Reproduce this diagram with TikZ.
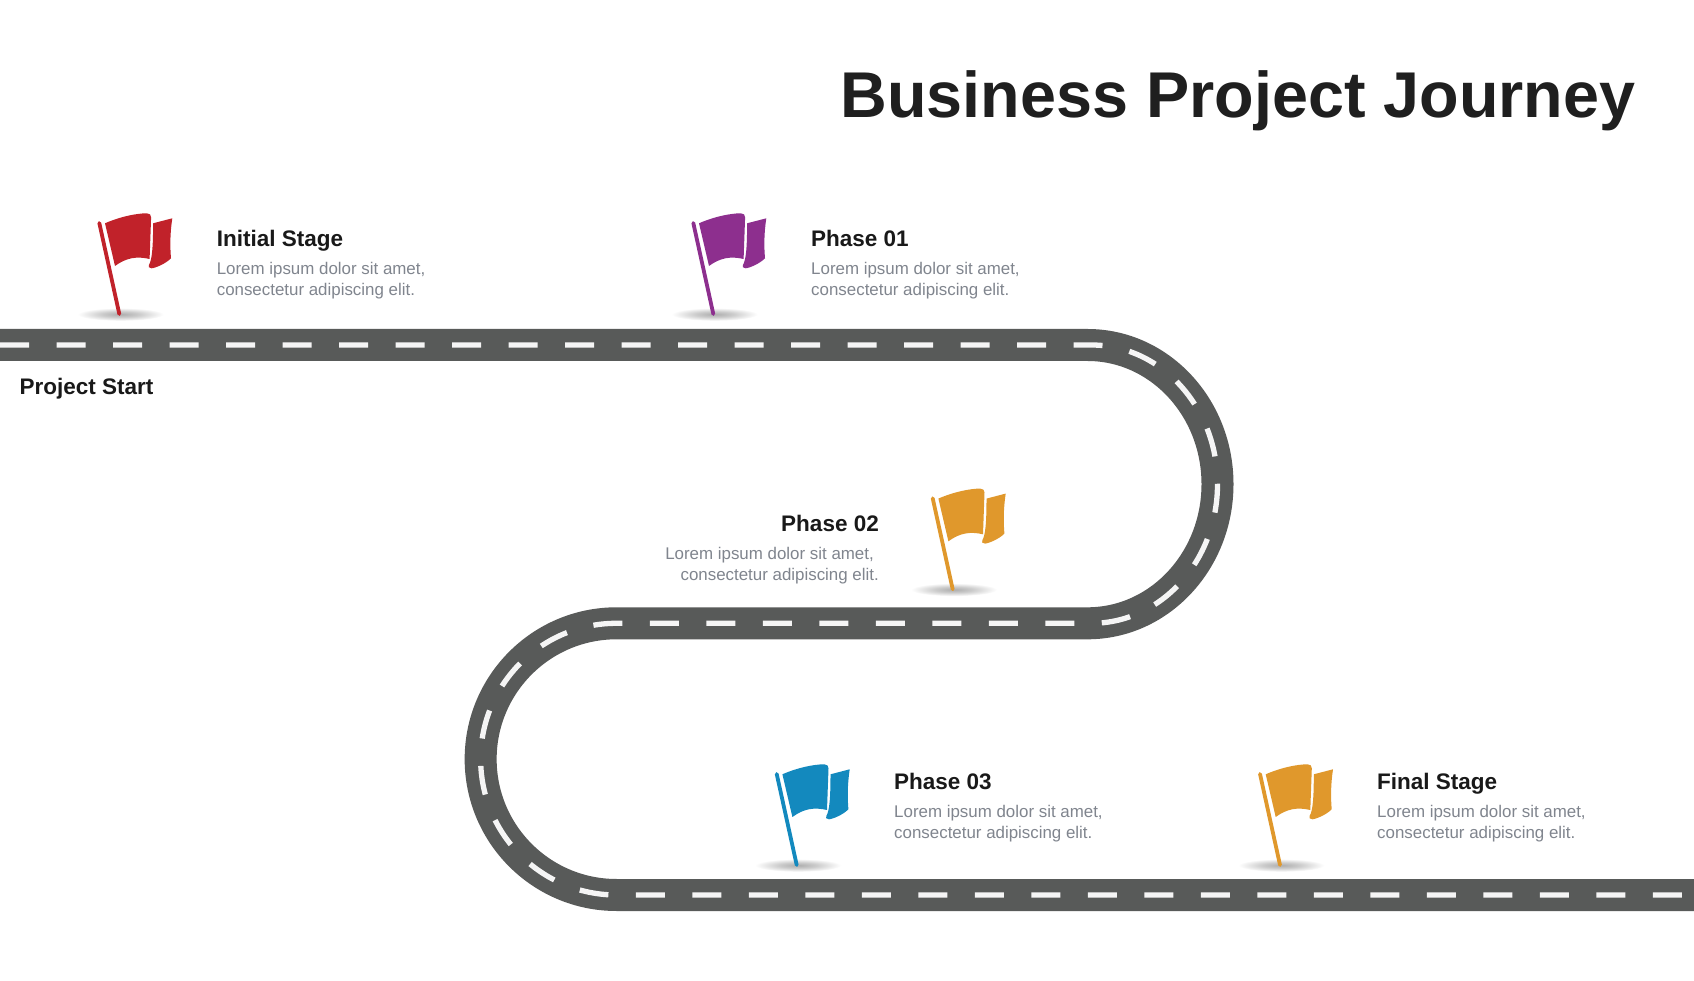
\documentclass[tikz,border=0pt]{standalone}
\usepackage{fontspec}
\setmainfont{Liberation Sans}
\usepackage{xcolor}
\usetikzlibrary{positioning}

\definecolor{roadgray}{HTML}{585A59}
\definecolor{flagred}{HTML}{C1222A}
\definecolor{flagpurple}{HTML}{8D2F8E}
\definecolor{flagorange}{HTML}{E0982C}
\definecolor{flagblue}{HTML}{1389BE}
\definecolor{bodygray}{HTML}{80858E}

\pgfdeclareradialshading{groundshadow}{\pgfpoint{0bp}{0bp}}{color(0bp)=(black!32); color(11bp)=(black!20); color(25bp)=(white); color(50bp)=(white)}

\tikzset{
  pics/stageflag/.style={code={
    \shade[shading=groundshadow] (1.3,-0.3) ellipse (43 and 6.5);
    \draw[#1,line width=3.8pt,line cap=round] (-20,91) -- (0,0);
    \fill[#1] (-14.3,90.7) .. controls (0.7,97.3) and (17.3,100.7) .. (27.5,100.7)
        .. controls (30.5,100.7) and (31.8,99) .. (31.8,96.7)
        -- (30.3,55) .. controls (17.3,58) and (7,56.3) .. (-4.3,48) -- cycle;
    \fill[#1] (33.8,90.7) -- (53,95.7) .. controls (50.7,80.7) and (50.7,67.3) .. (51.7,55.7)
        .. controls (46,50) and (36,46) .. (32.3,45.7)
        .. controls (29.5,45.7) and (28.5,47.5) .. (29.6,49)
        .. controls (32.8,54) and (33.8,67.3) .. cycle;
  }}
}

\begin{document}
\begin{tikzpicture}[x=1pt,y=1pt]
  \tikzstyle{headtext}=[inner sep=0pt,text=black!90,font=\fontsize{22.5}{28}\selectfont\bfseries]
  \tikzstyle{bodytext}=[inner sep=0pt,text=bodygray,font=\fontsize{16.9}{20.3}\selectfont]
  \tikzstyle{road}=[draw=roadgray,line width=32pt]
  \tikzstyle{lane}=[draw=white!96!black,line width=5.3pt,dash pattern=on 29pt off 27.5pt]
\useasboundingbox (0,0) rectangle (1694,980);
\fill[white] (0,0) rectangle (1694,980);
\draw[road] (0,635) -- (1087.5,635) arc[start angle=90,end angle=-90,x radius=130,y radius=139.15]
    -- (616.5,356.7) arc[start angle=90,end angle=270,radius=135.85] -- (1694,85);
% centre line, a little tighter in the right bend so the dashes fall right
\draw[lane] (0,635) -- (1091.5,635) arc[start angle=90,end angle=-90,x radius=126,y radius=139.15]
    -- (616.5,356.7) arc[start angle=90,end angle=270,radius=135.85] -- (1694,85);
\node[inner sep=0pt,anchor=base west,text=black!88,font=\fontsize{64.7}{70}\selectfont\bfseries] (title) at (840.5,862) {Business Project Journey};
\node[headtext,anchor=base west] (start) at (19.5,585) {Project Start};
\foreach \n/\fx/\fy/\col in {1/119.3/666/flagred,2/713.3/666/flagpurple,3/952.7/390.7/flagorange,4/796.7/115/flagblue,5/1280/115/flagorange}{
    \pic at (\fx,\fy) {stageflag=\col};
}
\foreach \n/\tx/\ty/\lab in {1/216.6/733.2/Initial Stage,2/811/733.2/Phase 01,4/894/190.3/Phase 03,5/1377/190.3/Final Stage}{
    \node[headtext,anchor=base west] (head_\n) at (\tx,\ty) {\lab};
    \node[bodytext,align=left,below right=15.7pt and 0pt of head_\n.base west] (text_\n) {Lorem ipsum dolor sit amet,\\consectetur adipiscing elit.};
}
\node[headtext,anchor=base east] (head_3) at (879,448.3) {Phase 02};
\node[bodytext,align=right,below left=15.7pt and 0pt of head_3.base east] (text_3) {Lorem ipsum dolor sit amet,\hspace*{5pt}\\consectetur adipiscing elit.};
\end{tikzpicture}
\end{document}
